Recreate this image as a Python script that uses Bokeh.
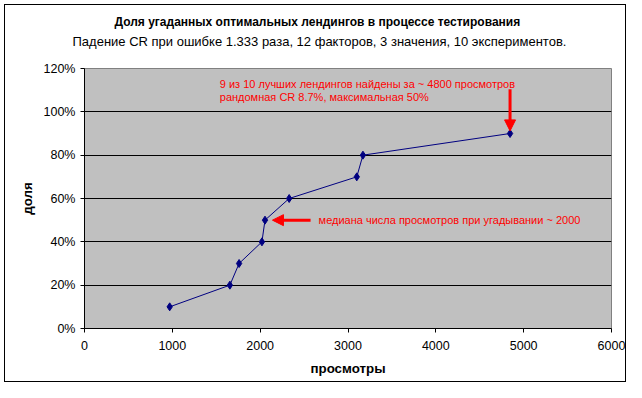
from bokeh.plotting import figure
from bokeh.models import (ColumnDataSource, Label, Arrow, NormalHead, FixedTicker,
                          NumeralTickFormatter, Range1d, Title)
from bokeh.embed import file_html
from bokeh.resources import INLINE

# ---- data ----
views = [970, 1655, 1760, 2020, 2055, 2330, 3100, 3170, 4845]
share = [0.10, 0.20, 0.30, 0.40, 0.50, 0.60, 0.70, 0.80, 0.90]
x_ticks = [0, 1000, 2000, 3000, 4000, 5000, 6000]
y_ticks = [0.0, 0.2, 0.4, 0.6, 0.8, 1.0, 1.2]

title_text = "Доля угаданных оптимальных лендингов в процессе тестирования"
subtitle_text = "Падение CR при ошибке 1.333 раза, 12 факторов, 3 значения, 10 экспериментов."
note_top_1 = "9 из 10 лучших лендингов найдены за ~ 4800 просмотров"
note_top_2 = "рандомная CR 8.7%, максимальная 50%"
note_median = "медиана числа просмотров при угадывании ~ 2000"
x_label = "просмотры"
y_label = "доля"

FONT = "Liberation Sans"
NAVY = "#000080"
RED = "#FF0000"

p = figure(frame_width=527, frame_height=260,
           min_border_left=84, min_border_right=15, min_border_top=68, min_border_bottom=54,
           x_range=Range1d(0, 6000), y_range=Range1d(0, 1.2),
           output_backend="svg", toolbar_location=None, tools="")
p.styles = {"box-shadow": "inset 4px 4px 0 0 white, inset 5px 5px 0 0 black, "
                          "inset -1px -1px 0 0 black",
            "background-color": "white"}

p.background_fill_color = "#C0C0C0"
p.border_fill_color = None
p.outline_line_color = "#808080"
p.outline_line_width = 1

# grid
p.xgrid.visible = False
p.ygrid.ticker = FixedTicker(ticks=y_ticks[1:-1])
p.ygrid.grid_line_color = "black"
p.ygrid.grid_line_width = 1

# axes
for ax in (p.xaxis[0], p.yaxis[0]):
    ax.axis_line_color = "black"
    ax.major_tick_line_color = "black"
    ax.major_tick_out = 4
    ax.major_tick_in = 0
    ax.minor_tick_line_color = None
    ax.major_label_text_font = FONT
    ax.major_label_text_font_size = "12.5px"
    ax.major_label_text_color = "black"
    ax.axis_label_text_font = FONT
    ax.axis_label_text_font_size = "13.33px"
    ax.axis_label_text_font_style = "bold"
    ax.axis_label_text_color = "black"

p.xaxis.ticker = FixedTicker(ticks=x_ticks)
p.yaxis.ticker = FixedTicker(ticks=y_ticks)
p.yaxis.formatter = NumeralTickFormatter(format="0%")
p.xaxis.axis_label = x_label
p.yaxis.axis_label = y_label
p.xaxis.major_label_standoff = 8
p.xaxis.axis_label_standoff = 8
p.yaxis.major_label_standoff = 5
p.yaxis.axis_label_standoff = 6

# titles: spacer nearest to the frame, then subtitle, then title
p.add_layout(Title(text=" ", text_font=FONT, text_font_size="1px", standoff=16), "above")
p.add_layout(Title(text=subtitle_text, text_font=FONT, text_font_size="13px",
                   text_font_style="normal", text_color="black", align="left",
                   offset=-12, standoff=1), "above")
p.add_layout(Title(text=title_text, text_font=FONT, text_font_size="12px",
                   text_font_style="bold", text_color="black", align="left",
                   offset=30, standoff=5), "above")

# data
src = ColumnDataSource(data=dict(x=views, y=share))
p.line("x", "y", source=src, line_color=NAVY, line_width=1)
p.scatter("x", "y", source=src, marker="diamond", size=8, fill_color=NAVY, line_color=NAVY)

# annotations anchored to data points
last_x, last_y = views[-1], share[-1]
p.add_layout(Arrow(end=NormalHead(size=11, fill_color=RED, line_color=RED),
                   x_start=last_x, y_start=1.104, x_end=last_x, y_end=last_y + 0.012,
                   line_color=RED, line_width=3))
p.add_layout(Label(x=1540, y=1.130, text=note_top_1, text_font=FONT, text_font_size="11px",
                   text_color=RED, text_baseline="middle"))
p.add_layout(Label(x=1540, y=1.068, text=note_top_2, text_font=FONT, text_font_size="11px",
                   text_color=RED, text_baseline="middle"))

med_x, med_y = views[4], share[4]
p.add_layout(Arrow(end=NormalHead(size=11, fill_color=RED, line_color=RED),
                   x_start=2574, y_start=med_y, x_end=med_x + 85, y_end=med_y,
                   line_color=RED, line_width=3))
p.add_layout(Label(x=2665, y=med_y, text=note_median, text_font=FONT, text_font_size="11px",
                   text_color=RED, text_baseline="middle"))

open("out.html", "w").write(file_html(p, INLINE))
